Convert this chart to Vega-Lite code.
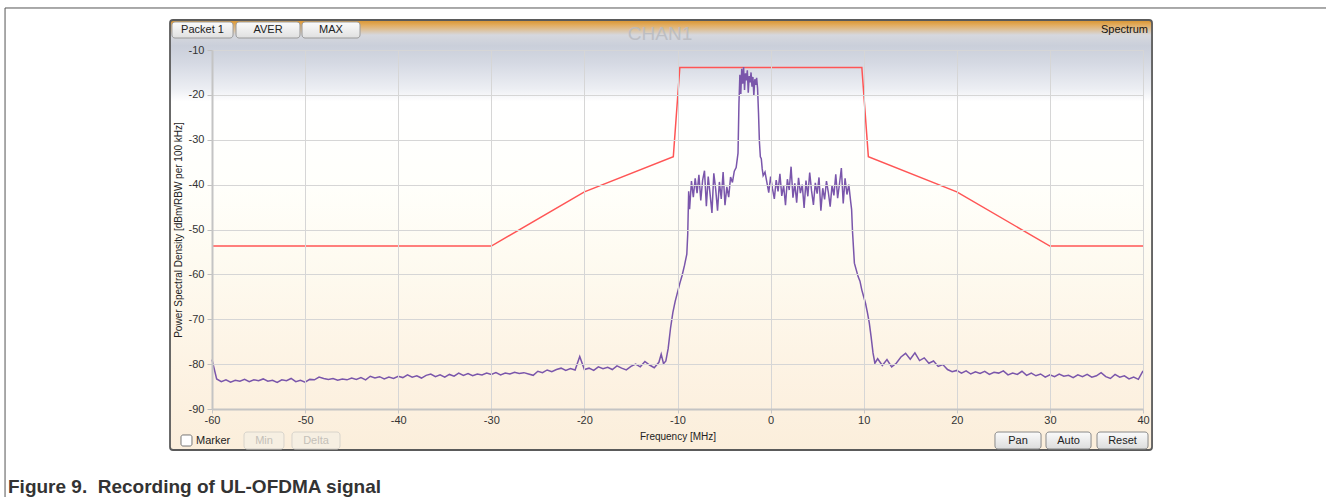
{
  "$schema": "https://vega.github.io/schema/vega-lite/v6.json",
  "width": 931,
  "height": 359,
  "autosize": {"type": "none"},
  "padding": {"left": 212, "top": 50, "right": 183, "bottom": 88},
  "background": "white",
  "config": {"view": {"stroke": null}, "font": "Liberation Sans"},
  "datasets": {
    "one": [{}],
    "mask": [
      {"f": -60, "p": -53.7}, {"f": -30, "p": -53.7}, {"f": -20, "p": -41.6}, {"f": -10.45, "p": -33.8},
      {"f": -9.75, "p": -13.9}, {"f": 9.8, "p": -13.9}, {"f": 10.5, "p": -33.8}, {"f": 20, "p": -41.6},
      {"f": 30, "p": -53.7}, {"f": 40, "p": -53.7}
    ],
    "sig": [
      {"f": -60, "p": -79.0}, {"f": -59.5, "p": -83.3}, {"f": -59, "p": -83.9}, {"f": -58.5, "p": -83.5},
      {"f": -58, "p": -84.0}, {"f": -57.5, "p": -83.6}, {"f": -57, "p": -83.8}, {"f": -56.5, "p": -83.4},
      {"f": -56, "p": -83.9}, {"f": -55.5, "p": -83.5}, {"f": -55, "p": -83.7}, {"f": -54.5, "p": -83.3},
      {"f": -54, "p": -83.8}, {"f": -53.5, "p": -83.6}, {"f": -53, "p": -84.1}, {"f": -52.5, "p": -83.5},
      {"f": -52, "p": -83.7}, {"f": -51.5, "p": -83.2}, {"f": -51, "p": -83.9}, {"f": -50.5, "p": -83.6},
      {"f": -50, "p": -84.0}, {"f": -49.5, "p": -83.4}, {"f": -49, "p": -83.5}, {"f": -48.5, "p": -82.9},
      {"f": -48, "p": -83.2}, {"f": -47.5, "p": -83.4}, {"f": -47, "p": -83.2}, {"f": -46.5, "p": -83.6},
      {"f": -46, "p": -83.3}, {"f": -45.5, "p": -83.5}, {"f": -45, "p": -83.1}, {"f": -44.5, "p": -83.4},
      {"f": -44, "p": -83.0}, {"f": -43.5, "p": -83.5}, {"f": -43, "p": -82.7}, {"f": -42.5, "p": -83.1},
      {"f": -42, "p": -82.8}, {"f": -41.5, "p": -83.3}, {"f": -41, "p": -82.9}, {"f": -40.5, "p": -83.2},
      {"f": -40, "p": -82.7}, {"f": -39.5, "p": -83.0}, {"f": -39, "p": -82.4}, {"f": -38.5, "p": -82.9},
      {"f": -38, "p": -82.6}, {"f": -37.5, "p": -83.1}, {"f": -37, "p": -82.5}, {"f": -36.5, "p": -82.2},
      {"f": -36, "p": -82.8}, {"f": -35.5, "p": -82.4}, {"f": -35, "p": -82.9}, {"f": -34.5, "p": -82.3},
      {"f": -34, "p": -82.7}, {"f": -33.5, "p": -82.0}, {"f": -33, "p": -82.5}, {"f": -32.5, "p": -82.1},
      {"f": -32, "p": -82.6}, {"f": -31.5, "p": -82.2}, {"f": -31, "p": -82.4}, {"f": -30.5, "p": -82.0},
      {"f": -30, "p": -82.3}, {"f": -29.5, "p": -81.9}, {"f": -29, "p": -82.4}, {"f": -28.5, "p": -82.0},
      {"f": -28, "p": -82.2}, {"f": -27.5, "p": -81.8}, {"f": -27, "p": -82.1}, {"f": -26.5, "p": -81.9},
      {"f": -26, "p": -82.2}, {"f": -25.5, "p": -82.5}, {"f": -25, "p": -81.6}, {"f": -24.5, "p": -81.9},
      {"f": -24, "p": -81.3}, {"f": -23.5, "p": -81.7}, {"f": -23, "p": -81.2}, {"f": -22.5, "p": -80.9},
      {"f": -22, "p": -81.4}, {"f": -21.5, "p": -81.0}, {"f": -21, "p": -81.3}, {"f": -20.5, "p": -78.3},
      {"f": -20, "p": -81.2}, {"f": -19.5, "p": -80.9}, {"f": -19, "p": -81.4}, {"f": -18.5, "p": -80.6},
      {"f": -18, "p": -81.0}, {"f": -17.5, "p": -80.7}, {"f": -17, "p": -81.2}, {"f": -16.5, "p": -80.4},
      {"f": -16, "p": -80.9}, {"f": -15.5, "p": -81.3}, {"f": -15, "p": -80.5}, {"f": -14.5, "p": -80.0},
      {"f": -14, "p": -80.6}, {"f": -13.5, "p": -79.4}, {"f": -13, "p": -80.2}, {"f": -12.5, "p": -80.8},
      {"f": -12, "p": -79.6}, {"f": -11.75, "p": -77.8}, {"f": -11.5, "p": -79.9}, {"f": -11.25, "p": -79.3},
      {"f": -11.0, "p": -76.5}, {"f": -10.75, "p": -72.0}, {"f": -10.5, "p": -68.5}, {"f": -10.25, "p": -66.0},
      {"f": -10.0, "p": -64.0}, {"f": -9.75, "p": -62.0}, {"f": -9.5, "p": -60.2}, {"f": -9.25, "p": -58.0},
      {"f": -9.0, "p": -55.5}, {"f": -8.9, "p": -51.0}, {"f": -8.8, "p": -41.5}, {"f": -8.7, "p": -45.5},
      {"f": -8.5, "p": -39.2}, {"f": -8.3, "p": -42.8}, {"f": -8.1, "p": -38.6}, {"f": -7.9, "p": -41.9},
      {"f": -7.7, "p": -37.8}, {"f": -7.5, "p": -43.5}, {"f": -7.3, "p": -39.0}, {"f": -7.1, "p": -36.9},
      {"f": -6.9, "p": -44.8}, {"f": -6.7, "p": -38.2}, {"f": -6.5, "p": -42.1}, {"f": -6.3, "p": -46.3},
      {"f": -6.1, "p": -37.5}, {"f": -5.9, "p": -41.0}, {"f": -5.7, "p": -45.8}, {"f": -5.5, "p": -39.4},
      {"f": -5.3, "p": -43.2}, {"f": -5.1, "p": -37.2}, {"f": -4.9, "p": -44.6}, {"f": -4.7, "p": -40.5},
      {"f": -4.5, "p": -42.8}, {"f": -4.3, "p": -38.3}, {"f": -4.1, "p": -39.5}, {"f": -3.9, "p": -37.0},
      {"f": -3.7, "p": -36.2}, {"f": -3.5, "p": -33.0}, {"f": -3.4, "p": -22.0}, {"f": -3.3, "p": -15.5},
      {"f": -3.2, "p": -19.8}, {"f": -3.1, "p": -14.2}, {"f": -3.0, "p": -17.5}, {"f": -2.9, "p": -13.8},
      {"f": -2.8, "p": -18.9}, {"f": -2.7, "p": -15.2}, {"f": -2.6, "p": -16.8}, {"f": -2.5, "p": -14.5},
      {"f": -2.4, "p": -19.5}, {"f": -2.3, "p": -15.8}, {"f": -2.2, "p": -17.2}, {"f": -2.1, "p": -15.0},
      {"f": -2.0, "p": -18.2}, {"f": -1.9, "p": -16.0}, {"f": -1.8, "p": -20.2}, {"f": -1.7, "p": -16.5},
      {"f": -1.6, "p": -17.8}, {"f": -1.5, "p": -16.2}, {"f": -1.4, "p": -18.5}, {"f": -1.3, "p": -24.0},
      {"f": -1.2, "p": -30.5}, {"f": -1.1, "p": -33.8}, {"f": -1.0, "p": -34.2}, {"f": -0.9, "p": -36.5},
      {"f": -0.8, "p": -38.0}, {"f": -0.6, "p": -37.2}, {"f": -0.4, "p": -39.5}, {"f": -0.2, "p": -41.8},
      {"f": 0.0, "p": -38.2}, {"f": 0.2, "p": -40.9}, {"f": 0.4, "p": -43.2}, {"f": 0.6, "p": -39.0},
      {"f": 0.8, "p": -41.5}, {"f": 1.0, "p": -37.6}, {"f": 1.2, "p": -42.5}, {"f": 1.4, "p": -40.2},
      {"f": 1.6, "p": -44.6}, {"f": 1.8, "p": -38.8}, {"f": 2.0, "p": -41.2}, {"f": 2.2, "p": -36.0},
      {"f": 2.4, "p": -42.9}, {"f": 2.6, "p": -39.7}, {"f": 2.8, "p": -44.0}, {"f": 3.0, "p": -38.5},
      {"f": 3.2, "p": -41.9}, {"f": 3.4, "p": -40.0}, {"f": 3.6, "p": -45.2}, {"f": 3.8, "p": -39.1},
      {"f": 4.0, "p": -42.6}, {"f": 4.2, "p": -37.3}, {"f": 4.4, "p": -41.4}, {"f": 4.6, "p": -44.5},
      {"f": 4.8, "p": -39.6}, {"f": 5.0, "p": -42.0}, {"f": 5.2, "p": -38.4}, {"f": 5.4, "p": -45.8},
      {"f": 5.6, "p": -40.8}, {"f": 5.8, "p": -43.3}, {"f": 6.0, "p": -39.2}, {"f": 6.2, "p": -41.7},
      {"f": 6.4, "p": -44.9}, {"f": 6.6, "p": -40.1}, {"f": 6.8, "p": -42.4}, {"f": 7.0, "p": -37.7},
      {"f": 7.2, "p": -43.0}, {"f": 7.4, "p": -39.8}, {"f": 7.6, "p": -36.3}, {"f": 7.8, "p": -44.2},
      {"f": 8.0, "p": -38.6}, {"f": 8.2, "p": -42.2}, {"f": 8.4, "p": -40.0}, {"f": 8.6, "p": -43.8},
      {"f": 8.7, "p": -45.5}, {"f": 8.8, "p": -50.5}, {"f": 9.0, "p": -57.5}, {"f": 9.2, "p": -59.0},
      {"f": 9.4, "p": -60.5}, {"f": 9.6, "p": -61.5}, {"f": 9.8, "p": -63.5}, {"f": 10.0, "p": -65.0},
      {"f": 10.2, "p": -66.5}, {"f": 10.4, "p": -68.5}, {"f": 10.6, "p": -70.8}, {"f": 10.8, "p": -74.0},
      {"f": 11.0, "p": -77.5}, {"f": 11.2, "p": -79.8}, {"f": 11.5, "p": -78.8}, {"f": 12.0, "p": -80.3},
      {"f": 12.5, "p": -79.0}, {"f": 13.0, "p": -80.6}, {"f": 13.5, "p": -79.8}, {"f": 14.0, "p": -78.4},
      {"f": 14.5, "p": -77.6}, {"f": 15.0, "p": -78.9}, {"f": 15.5, "p": -77.5}, {"f": 16.0, "p": -79.2},
      {"f": 16.5, "p": -78.6}, {"f": 17.0, "p": -79.8}, {"f": 17.5, "p": -79.3}, {"f": 18.0, "p": -80.5},
      {"f": 18.5, "p": -80.1}, {"f": 19.0, "p": -81.2}, {"f": 19.5, "p": -81.7}, {"f": 20.0, "p": -81.4},
      {"f": 20.5, "p": -82.0}, {"f": 21.0, "p": -81.5}, {"f": 21.5, "p": -82.2}, {"f": 22.0, "p": -81.7},
      {"f": 22.5, "p": -82.1}, {"f": 23.0, "p": -81.6}, {"f": 23.5, "p": -82.3}, {"f": 24.0, "p": -81.8},
      {"f": 24.5, "p": -82.0}, {"f": 25.0, "p": -81.5}, {"f": 25.5, "p": -82.4}, {"f": 26.0, "p": -82.0},
      {"f": 26.5, "p": -82.3}, {"f": 27.0, "p": -81.6}, {"f": 27.5, "p": -82.5}, {"f": 28.0, "p": -82.0},
      {"f": 28.5, "p": -82.6}, {"f": 29.0, "p": -82.2}, {"f": 29.5, "p": -82.9}, {"f": 30.0, "p": -82.4},
      {"f": 30.5, "p": -82.8}, {"f": 31.0, "p": -82.2}, {"f": 31.5, "p": -82.7}, {"f": 32.0, "p": -82.5},
      {"f": 32.5, "p": -83.0}, {"f": 33.0, "p": -82.4}, {"f": 33.5, "p": -82.8}, {"f": 34.0, "p": -82.3},
      {"f": 34.5, "p": -82.9}, {"f": 35.0, "p": -82.6}, {"f": 35.5, "p": -81.9}, {"f": 36.0, "p": -82.8},
      {"f": 36.5, "p": -83.2}, {"f": 37.0, "p": -82.3}, {"f": 37.5, "p": -82.9}, {"f": 38.0, "p": -82.6},
      {"f": 38.5, "p": -83.3}, {"f": 39.0, "p": -82.9}, {"f": 39.5, "p": -83.4}, {"f": 40.0, "p": -81.5}
    ]
  },
  "layer": [
    {
      "data": {"name": "one"},
      "mark": {"type": "rule", "color": "#555555", "strokeWidth": 1},
      "encoding": {
        "x": {"datum": -82.23}, "x2": {"datum": 62},
        "y": {"datum": -0.64}
      }
    },
    {
      "data": {"name": "one"},
      "mark": {"type": "rule", "color": "#555555", "strokeWidth": 1},
      "encoding": {
        "x": {"datum": -82.23},
        "y": {"datum": -0.64}, "y2": {"datum": -113}
      }
    },
    {
      "data": {"name": "one"},
      "mark": {
        "type": "rect", "stroke": "#5a5a5a", "strokeWidth": 1.8, "cornerRadius": 3,
        "fill": {"gradient": "linear", "x1": 0, "y1": 0, "x2": 0, "y2": 1, "stops": [
          {"offset": 0, "color": "#d8922c"},
          {"offset": 0.012, "color": "#e3ad60"},
          {"offset": 0.035, "color": "#d6d8de"},
          {"offset": 0.06, "color": "#cacfda"},
          {"offset": 0.1, "color": "#d5d9e3"},
          {"offset": 0.16, "color": "#eceef3"},
          {"offset": 0.19, "color": "#ffffff"},
          {"offset": 0.38, "color": "#fffffb"},
          {"offset": 0.55, "color": "#fefbf1"},
          {"offset": 0.8, "color": "#fdf3e4"},
          {"offset": 1, "color": "#fbeedb"}
        ]}
      },
      "encoding": {
        "x": {"datum": -64.51}, "x2": {"datum": 40.97},
        "y": {"datum": -3.31}, "y2": {"datum": -99.14}
      }
    },
    {
      "data": {"values": [
        {"a": -64.3, "b": -57.74}, {"a": -57.42, "b": -50.55}, {"a": -50.33, "b": -44.1}
      ]},
      "mark": {
        "type": "rect", "stroke": "#9a9a9a", "strokeWidth": 1, "cornerRadius": 3,
        "fill": {"gradient": "linear", "x1": 0, "y1": 0, "x2": 0, "y2": 1, "stops": [
          {"offset": 0, "color": "#fbfbfb"}, {"offset": 1, "color": "#e0e0e0"}]}
      },
      "encoding": {
        "x": {"field": "a", "type": "quantitative"}, "x2": {"field": "b"},
        "y": {"datum": -3.76}, "y2": {"datum": -7.33}
      }
    },
    {
      "data": {"values": [
        {"a": 24.1, "b": 29.05}, {"a": 29.58, "b": 34.42}, {"a": 35.06, "b": 40.54}
      ]},
      "mark": {
        "type": "rect", "stroke": "#8a8a8a", "strokeWidth": 1, "cornerRadius": 3,
        "fill": {"gradient": "linear", "x1": 0, "y1": 0, "x2": 0, "y2": 1, "stops": [
          {"offset": 0, "color": "#fbfbfb"}, {"offset": 1, "color": "#dcdcdc"}]}
      },
      "encoding": {
        "x": {"field": "a", "type": "quantitative"}, "x2": {"field": "b"},
        "y": {"datum": -95.13}, "y2": {"datum": -98.91}
      }
    },
    {
      "data": {"values": [
        {"a": -56.56, "b": -52.27}, {"a": -51.41, "b": -46.25}
      ]},
      "mark": {"type": "rect", "stroke": "#d8d4cc", "strokeWidth": 1, "cornerRadius": 3, "fill": "#f6efe2"},
      "encoding": {
        "x": {"field": "a", "type": "quantitative"}, "x2": {"field": "b"},
        "y": {"datum": -95.13}, "y2": {"datum": -98.91}
      }
    },
    {
      "data": {"name": "one"},
      "mark": {"type": "rect", "stroke": "#777777", "strokeWidth": 1, "cornerRadius": 2, "fill": "#ffffff"},
      "encoding": {
        "x": {"datum": -63.33}, "x2": {"datum": -62.15},
        "y": {"datum": -95.79}, "y2": {"datum": -98.25}
      }
    },
    {
      "data": {"values": [
        {"t": "Packet 1", "x": -61.02}, {"t": "AVER", "x": -53.98}, {"t": "MAX", "x": -47.22}
      ]},
      "mark": {"type": "text", "fontSize": 11, "color": "#222222", "align": "center", "baseline": "middle"},
      "encoding": {
        "x": {"field": "x", "type": "quantitative"}, "y": {"datum": -5.54},
        "text": {"field": "t"}
      }
    },
    {
      "data": {"values": [
        {"t": "Pan", "x": 26.57}, {"t": "Auto", "x": 32.0}, {"t": "Reset", "x": 37.8}
      ]},
      "mark": {"type": "text", "fontSize": 11, "color": "#222222", "align": "center", "baseline": "middle"},
      "encoding": {
        "x": {"field": "x", "type": "quantitative"}, "y": {"datum": -97.13},
        "text": {"field": "t"}
      }
    },
    {
      "data": {"values": [
        {"t": "Min", "x": -54.41}, {"t": "Delta", "x": -48.83}
      ]},
      "mark": {"type": "text", "fontSize": 11, "color": "#c4c0b8", "align": "center", "baseline": "middle"},
      "encoding": {
        "x": {"field": "x", "type": "quantitative"}, "y": {"datum": -97.13},
        "text": {"field": "t"}
      }
    },
    {
      "data": {"name": "one"},
      "mark": {"type": "text", "fontSize": 11, "color": "#222222", "align": "left", "baseline": "middle", "text": "Marker"},
      "encoding": {"x": {"datum": -61.72}, "y": {"datum": -97.13}}
    },
    {
      "data": {"name": "one"},
      "mark": {"type": "text", "fontSize": 11, "color": "#111111", "align": "right", "baseline": "middle", "text": "Spectrum"},
      "encoding": {"x": {"datum": 40.54}, "y": {"datum": -5.54}}
    },
    {
      "data": {"name": "one"},
      "mark": {"type": "text", "fontSize": 19, "color": "#b9bbc1", "opacity": 0.85, "align": "center", "baseline": "middle", "text": "CHAN1"},
      "encoding": {"x": {"datum": -11.88}, "y": {"datum": -6.5}}
    },
    {
      "data": {"name": "one"},
      "mark": {"type": "text", "fontSize": 19, "fontWeight": "bold", "color": "#333333", "align": "left", "baseline": "middle", "text": "Figure 9.\u00a0 Recording of UL-OFDMA signal"},
      "encoding": {"x": {"datum": -81.91}, "y": {"datum": -107.39}}
    },
    {
      "data": {"name": "mask"},
      "mark": {"type": "line", "color": "#ff5555", "strokeWidth": 1.5},
      "encoding": {
        "x": {"field": "f", "type": "quantitative", "scale": {"domain": [-60, 40], "nice": false, "zero": false}},
        "y": {"field": "p", "type": "quantitative", "scale": {"domain": [-90, -10], "nice": false, "zero": false}}
      }
    },
    {
      "data": {"name": "sig"},
      "mark": {"type": "line", "color": "#7a56ab", "strokeWidth": 1.5},
      "encoding": {
        "x": {
          "field": "f", "type": "quantitative",
          "scale": {"domain": [-60, 40], "nice": false, "zero": false},
          "axis": {
            "values": [-60, -50, -40, -30, -20, -10, 0, 10, 20, 30, 40],
            "labelExpr": "toString(datum.value)",
            "title": "Frequency [MHz]", "titleFontSize": 10, "titleFontWeight": "normal", "titleColor": "#222222", "titlePadding": 6,
            "labelFontSize": 11, "labelColor": "#333333", "labelPadding": 1, "labelFlush": false,
            "tickSize": 4, "tickColor": "#c8c8c8", "domainColor": "#c4c4c4", "domainWidth": 2,
            "grid": true, "gridColor": "#d6d6d6", "zindex": 1
          }
        },
        "y": {
          "field": "p", "type": "quantitative",
          "scale": {"domain": [-90, -10], "nice": false, "zero": false},
          "axis": {
            "values": [-90, -80, -70, -60, -50, -40, -30, -20, -10],
            "labelExpr": "toString(datum.value)",
            "title": "Power Spectral Density [dBm/RBW per 100 kHz]", "titleFontSize": 10, "titleFontWeight": "normal", "titleColor": "#222222", "titlePadding": 5,
            "labelFontSize": 11, "labelColor": "#333333", "labelPadding": 3,
            "tickSize": 5, "tickColor": "#c0c0c0", "domainColor": "#c4c4c4", "domainWidth": 2,
            "grid": true, "gridColor": "#d6d6d6", "zindex": 1
          }
        }
      }
    }
  ]
}
